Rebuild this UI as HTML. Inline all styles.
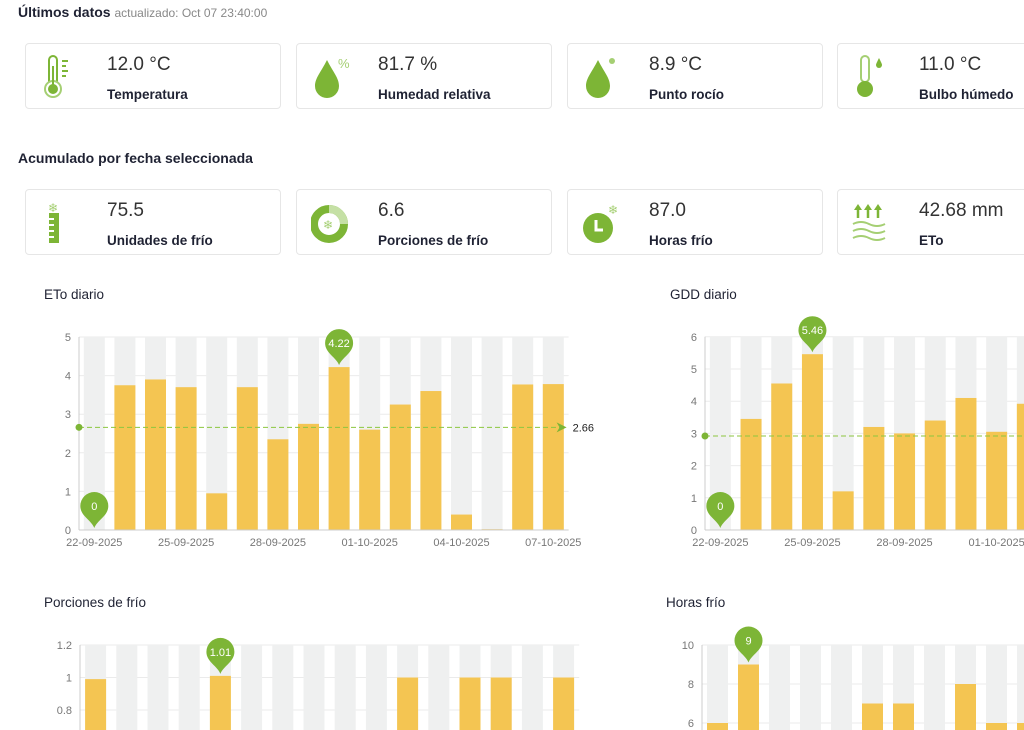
<!DOCTYPE html>
<html><head><meta charset="utf-8">
<style>
*{box-sizing:border-box;margin:0;padding:0}
body{width:1024px;height:730px;overflow:hidden;background:#fff;font-family:"Liberation Sans",sans-serif;color:#1f2233;position:relative}
.h{position:absolute;font-size:14px;font-weight:bold;color:#1f2233}
.sub{font-weight:normal;font-size:12px;color:#888}
.card{position:absolute;width:256px;height:66px;border:1px solid #e6e6e6;border-radius:4px;background:#fff}
.card .v{position:absolute;left:81px;top:10px;font-size:19px;color:#333;font-weight:300}
.card .l{position:absolute;left:81px;top:43px;font-size:13.5px;font-weight:bold;color:#1f2233}
.card svg{position:absolute;left:14px;top:10px}
.ct{position:absolute;font-size:13.5px;color:#1f2233}
</style></head><body>
<div class="h" style="left:18px;top:4px">Últimos datos <span class="sub">actualizado: Oct 07 23:40:00</span></div>

<div class="card" style="left:25px;top:43px">
<svg width="40" height="46" viewBox="0 0 40 46"><rect x="9" y="2" width="8" height="30" rx="4" fill="none" stroke="#7db536" stroke-width="2"/><circle cx="13" cy="35" r="8" fill="#fff" stroke="#a5cf73" stroke-width="2"/><circle cx="13" cy="35" r="5" fill="#7db536"/><rect x="12" y="12" width="2" height="20" fill="#7db536"/><g fill="#7db536"><rect x="22" y="6" width="6" height="2"/><rect x="22" y="11" width="4" height="2"/><rect x="22" y="16" width="6" height="2"/><rect x="22" y="21" width="4" height="2"/></g></svg>
<div class="v">12.0 °C</div><div class="l">Temperatura</div></div>

<div class="card" style="left:296px;top:43px">
<svg width="40" height="46" viewBox="0 0 40 46"><path d="M16 6 C10 18 4 24 4 32 A12 12 0 0 0 28 32 C28 24 22 18 16 6Z" fill="#7db536"/><text x="27" y="14" font-size="13" fill="#a5cf73" font-family="Liberation Sans">%</text></svg>
<div class="v">81.7 %</div><div class="l">Humedad relativa</div></div>

<div class="card" style="left:567px;top:43px">
<svg width="40" height="46" viewBox="0 0 40 46"><path d="M16 6 C10 18 4 24 4 32 A12 12 0 0 0 28 32 C28 24 22 18 16 6Z" fill="#7db536"/><circle cx="30" cy="7" r="3" fill="#a5cf73"/></svg>
<div class="v">8.9 °C</div><div class="l">Punto rocío</div></div>

<div class="card" style="left:837px;top:43px">
<svg width="40" height="46" viewBox="0 0 40 46"><rect x="9" y="2" width="8" height="26" rx="4" fill="none" stroke="#a5cf73" stroke-width="2"/><circle cx="13" cy="35" r="8" fill="#7db536"/><path d="M27 4 C25 8 24 10 24 11 A3 3 0 0 0 30 11 C30 10 29 8 27 4Z" fill="#7db536"/></svg>
<div class="v">11.0 °C</div><div class="l">Bulbo húmedo</div></div>

<div class="h" style="left:18px;top:150px">Acumulado por fecha seleccionada</div>

<div class="card" style="left:25px;top:189px">
<svg width="40" height="46" viewBox="0 0 40 46"><text x="8" y="12" font-size="12" fill="#a5cf73">❄</text><rect x="9" y="13" width="10" height="30" fill="#7db536"/><g fill="#fff"><rect x="9" y="18" width="5" height="2"/><rect x="9" y="24" width="5" height="2"/><rect x="9" y="30" width="5" height="2"/><rect x="9" y="36" width="5" height="2"/></g></svg>
<div class="v">75.5</div><div class="l">Unidades de frío</div></div>

<div class="card" style="left:296px;top:189px">
<svg width="40" height="46" viewBox="0 0 40 46"><circle cx="18" cy="24" r="15" fill="none" stroke="#7db536" stroke-width="8"/><path d="M18 9 A15 15 0 0 1 33 24" fill="none" stroke="#c5e0a5" stroke-width="8"/><text x="12" y="29" font-size="12" fill="#a5cf73">❄</text></svg>
<div class="v">6.6</div><div class="l">Porciones de frío</div></div>

<div class="card" style="left:567px;top:189px">
<svg width="40" height="46" viewBox="0 0 40 46"><circle cx="16" cy="28" r="15" fill="#7db536"/><path d="M14 20 V30 H21" fill="none" stroke="#fff" stroke-width="3"/><text x="26" y="14" font-size="12" fill="#a5cf73">❄</text></svg>
<div class="v">87.0</div><div class="l">Horas frío</div></div>

<div class="card" style="left:837px;top:189px">
<svg width="40" height="46" viewBox="0 0 40 46"><g stroke="#7db536" stroke-width="2.5" fill="#7db536"><line x1="6" y1="8" x2="6" y2="18"/><line x1="16" y1="8" x2="16" y2="18"/><line x1="26" y1="8" x2="26" y2="18"/></g><g fill="#7db536"><path d="M2 10 L6 4 L10 10Z"/><path d="M12 10 L16 4 L20 10Z"/><path d="M22 10 L26 4 L30 10Z"/></g><g fill="none" stroke="#a5cf73" stroke-width="2"><path d="M1 24 q8 -4 16 0 t16 0"/><path d="M1 31 q8 -4 16 0 t16 0"/><path d="M1 38 q8 -4 16 0 t16 0"/></g></svg>
<div class="v">42.68 mm</div><div class="l">ETo</div></div>

<div class="ct" style="left:44px;top:287px">ETo diario</div>
<div class="ct" style="left:670px;top:287px">GDD diario</div>
<div class="ct" style="left:44px;top:595px">Porciones de frío</div>
<div class="ct" style="left:666px;top:595px">Horas frío</div>

<svg id="charts" width="1024" height="730" style="position:absolute;left:0;top:0"></svg>

<script>
const dates = ["22-09-2025","23-09-2025","24-09-2025","25-09-2025","26-09-2025","27-09-2025","28-09-2025","29-09-2025","30-09-2025","01-10-2025","02-10-2025","03-10-2025","04-10-2025","05-10-2025","06-10-2025","07-10-2025"];
const etoValues = [0,3.75,3.9,3.7,0.95,3.7,2.35,2.75,4.22,2.6,3.25,3.6,0.4,0.02,3.77,3.78];
const etoTicks = [0,1,2,3,4,5];
const etoAvg = 2.66;
const gddValues = [0,3.45,4.55,5.46,1.2,3.2,3.0,3.4,4.1,3.05,3.92,3.5,1.0,0.5,3.6,3.7];
const gddTicks = [0,1,2,3,4,5,6];
const gddAvg = 2.92;
const portionValues = [0.99,0,0,0,1.01,0,0,0,0,0,1.0,0,1.0,1.0,0,1.0];
const portionTicks = [0.8,1,1.2];
const hoursValues = [6,9,0,0,0,7,7,0,8,6,6,0,0,0,0,0];
const hoursTicks = [6,8,10];

const NS="http://www.w3.org/2000/svg";
const svg=document.getElementById('charts');
function mk(tag,attrs,parent){const e=document.createElementNS(NS,tag);for(const k in attrs)e.setAttribute(k,attrs[k]);(parent||svg).appendChild(e);return e;}

function chart(o){
  const g=mk('g',{});
  
  
  const y=v=>o.y0-(v-o.vmin)*o.ppu;
  const band=o.band, n=o.values.length;
  const x=i=>o.left+i*band;
  const bw=21;
  // grid
  o.ticks.forEach(t=>{
    mk('line',{x1:o.left,x2:o.left+band*n,y1:y(t),y2:y(t),stroke:'#ebebeb'},g);
    const tx=mk('text',{x:o.left-8,y:y(t)+4,'text-anchor':'end','font-size':11,fill:'#777','font-family':'Liberation Sans'},g);
    tx.textContent=t;
    
    
  });
  const bottom=Math.min(y(o.vmin),730);
  const top=y(o.vmax);
  o.values.forEach((v,i)=>{
    const bx=x(i)+(band-bw)/2;
    mk('rect',{x:bx,y:top,width:bw,height:bottom-top,fill:'#eff0f0'},g);
    const yv=Math.max(y(v),top);
    if(v>0){
      const r=mk('rect',{x:bx,y:yv,width:bw,height:Math.max(bottom-yv,0),fill:'#f4c552'},g);
      
      
    }
  });
  mk('line',{x1:o.left,x2:o.left,y1:top,y2:bottom,stroke:'#ccc'},g);
  if(o.axis){
    mk('line',{x1:o.left,x2:o.left+band*n,y1:bottom,y2:bottom,stroke:'#ccc'},g);
    for(let i=0;i<n;i+=3){
      const t=mk('text',{x:x(i)+band/2,y:bottom+16,'text-anchor':'middle','font-size':11,fill:'#777','font-family':'Liberation Sans'},g);
      t.textContent=dates[i];
      
      
    }
  }
  if(o.avg!=null){
    const ya=y(o.avg);
    mk('line',{x1:o.left,x2:o.left+band*n-2,y1:ya,y2:ya,stroke:'#8cc63f','stroke-dasharray':'5,3','stroke-width':1},g);
    mk('circle',{cx:o.left,cy:ya,r:3.5,fill:'#7db536'},g);
    if(o.avgLabel){
      const ex=o.left+band*n-2;
      mk('path',{d:`M${ex-10} ${ya-5} L${ex} ${ya} L${ex-10} ${ya+5} L${ex-7} ${ya}Z`,fill:'#7db536'},g);
      const t=mk('text',{x:ex+6,y:ya+4,'font-size':11,fill:'#222','font-family':'Liberation Sans'},g);
      t.textContent=o.avg;
      
      
    }
  }
  // pins for min / max
  const pins=[];
  const mx=Math.max(...o.values);pins.push(o.values.indexOf(mx));
  if(o.minPin){const mn=Math.min(...o.values);pins.push(o.values.indexOf(mn));}
  pins.forEach(i=>{
    const v=o.values[i];const cx=x(i)+band/2;const ty=Math.max(y(v),top)-2;
    const p=mk('path',{d:`M${cx} ${ty} C${cx-3} ${ty-8} ${cx-14} ${ty-12} ${cx-14} ${ty-22} A14 14 0 1 1 ${cx+14} ${ty-22} C${cx+14} ${ty-12} ${cx+3} ${ty-8} ${cx} ${ty}Z`,fill:'#7db536'},g);
    
    
    const t=mk('text',{x:cx,y:ty-18,'text-anchor':'middle','font-size':11,fill:'#fff','font-family':'Liberation Sans'},g);
    t.textContent=v;
  });
}
chart({name:'eto-chart',values:etoValues,ticks:etoTicks,vmin:0,vmax:5,y0:530,ppu:38.6,left:79,band:30.6,axis:true,avg:etoAvg,avgLabel:true,minPin:true});
chart({name:'gdd-chart',values:gddValues,ticks:gddTicks,vmin:0,vmax:6,y0:530,ppu:32.2,left:705,band:30.7,axis:true,avg:gddAvg,avgLabel:false,minPin:true});
chart({name:'chill-portions-chart',values:portionValues,ticks:portionTicks,vmin:0,vmax:1.2,y0:840,ppu:162.5,left:80,band:31.2,axis:false,avg:null,minPin:false});
chart({name:'chill-hours-chart',values:hoursValues,ticks:hoursTicks,vmin:0,vmax:10,y0:840,ppu:19.5,left:702,band:31,axis:false,avg:null,minPin:false});
</script>
</body></html>
